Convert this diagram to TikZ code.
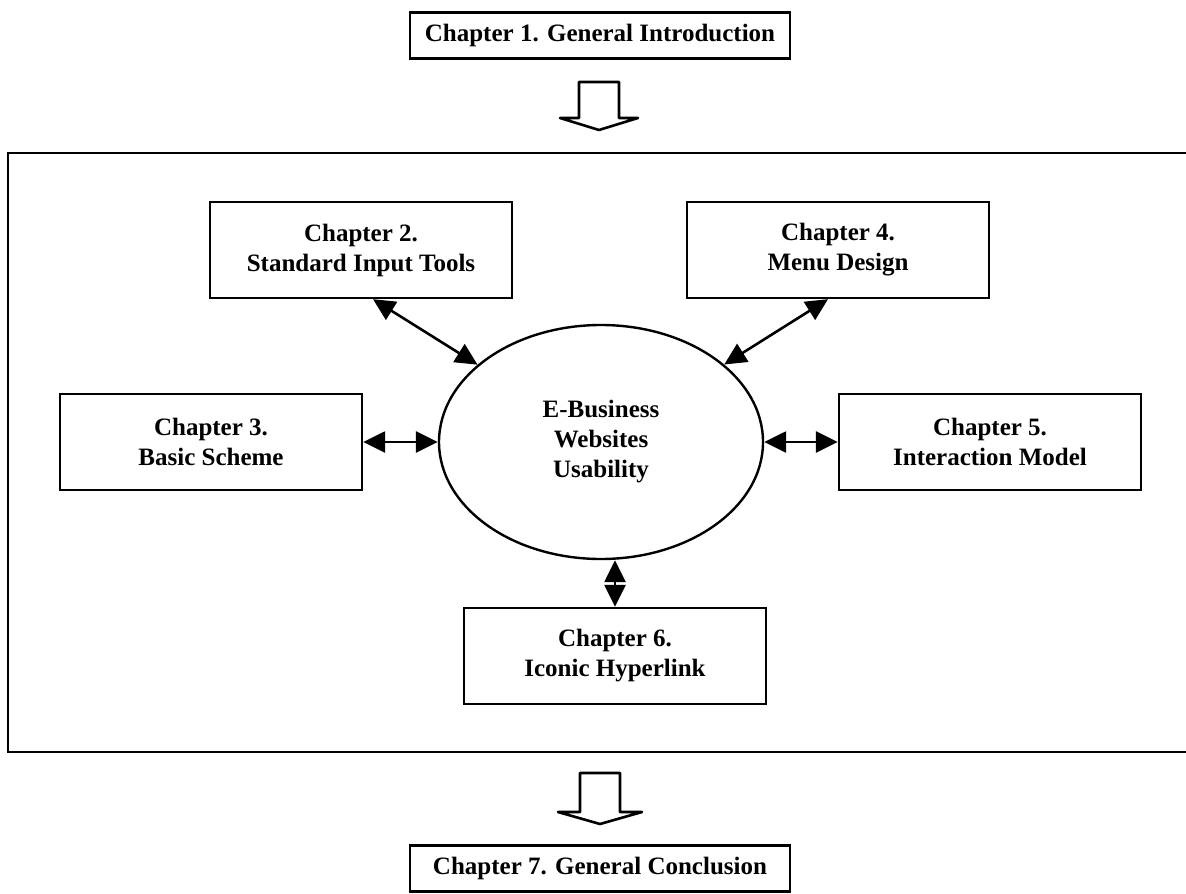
\documentclass[tikz,border=0pt]{standalone}
\usepackage{fontspec}
\setmainfont{Liberation Serif}
\usetikzlibrary{shapes.geometric}
\usetikzlibrary{arrows.meta}

\begin{document}
\begin{tikzpicture}[x=0.5pt,y=-0.5pt,line cap=rect]
		\def\chapfont{\fontsize{12.5pt}{15pt}\selectfont\bfseries}
		\tikzset{chapbox/.style={draw, line width=1.2pt, minimum width=151pt, minimum height=48pt, inner sep=0, align=center, font=\chapfont}}
		\tikzset{endbox/.style={draw, line width=1.2pt, minimum width=190pt, minimum height=23pt, inner sep=0, font=\chapfont}}
		\tikzset{link/.style={line width=1.3pt, line cap=butt, {Triangle[length=11pt,width=10.5pt]}-{Triangle[length=11pt,width=10.5pt]}}}
		\tikzset{hollow/.style={line width=1.3pt, line join=round}}
		\useasboundingbox (0,0) rectangle (1186,893);
		\clip (0,0) rectangle (1186,893);
		% outer frame, open to the right
		\draw [line width=1.3pt] (1200,153) -- (8,153) -- (8,752) -- (1200,752);
		% chapters
		\node[endbox] (intro) at (600,35.5) {Chapter 1. General Introduction};
		\node[chapbox] (ch2) at (361,250) {Chapter 2.\\Standard Input Tools};
		\node[chapbox] (ch4) at (838,250) {Chapter 4.\\Menu Design};
		\node[chapbox] (ch3) at (211,442) {Chapter 3.\\Basic Scheme};
		\node[chapbox] (ch5) at (990,442) {Chapter 5.\\Interaction Model};
		\node[chapbox] (ch6) at (615,656) {Chapter 6.\\Iconic Hyperlink};
		\node[endbox] (concl) at (600,868.5) {Chapter 7. General Conclusion};
		\node[draw, ellipse, line width=1.2pt, minimum width=162pt, minimum height=117pt, inner sep=0, align=center, font=\chapfont] (hub) at (601,442) {E-Business\\Websites\\Usability};
		% links to the hub
		\draw [link] ([xshift=6pt]ch2.south) -- (hub);
		\draw [link] ([xshift=-5pt]ch4.south) -- (hub);
		\draw [link] (ch3.east) -- (hub.west);
		\draw [link] (hub.east) -- (ch5.west);
		\draw [link] (ch6.north |- hub.south) -- (ch6.north);
		% hollow arrows
		\coordinate (downA) at (599,82);
		\coordinate (downB) at (600,773);
		\draw [hollow] (downA) -- ++(20,0) -- ++(0,36) -- ++(19,0) -- ++(-39,12) -- ++(-39,-12) -- ++(19,0) -- ++(0,-36) -- cycle;
		\draw [hollow] (downB) -- ++(20,0) -- ++(0,39) -- ++(22,0) -- ++(-42,12) -- ++(-42,-12) -- ++(22,0) -- ++(0,-39) -- cycle;
\end{tikzpicture}
\end{document}
